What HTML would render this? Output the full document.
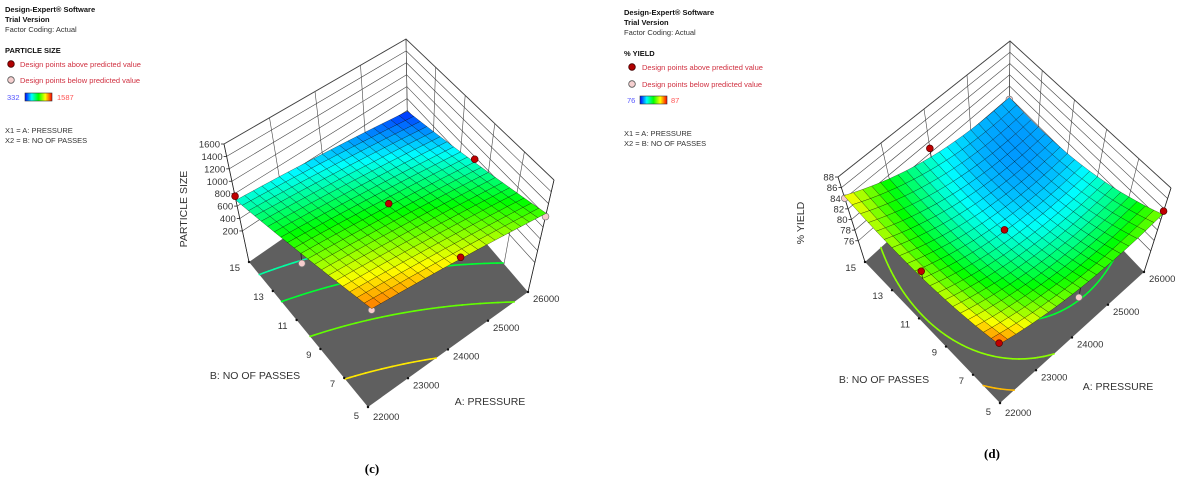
<!DOCTYPE html>
<html><head><meta charset="utf-8"><style>
body{margin:0;background:#fff;width:1203px;height:488px;overflow:hidden}
svg{display:block;font-family:"Liberation Sans",sans-serif}
.s{font-size:7.5px;fill:#333}
.b{font-size:7.5px;font-weight:bold;fill:#111}
.r{font-size:7.5px;fill:#d03040}
.t{font-size:9.5px;fill:#333}
.ax{font-size:10.5px;fill:#333}
</style></head><body>
<svg id="svg" width="1203" height="488" viewBox="0 0 1203 488">
<defs><linearGradient id="cg" x1="0" x2="1" y1="0" y2="0">
<stop offset="0" stop-color="#0000ff"/><stop offset="0.25" stop-color="#00ffff"/><stop offset="0.5" stop-color="#00ff00"/><stop offset="0.75" stop-color="#ffff00"/><stop offset="1" stop-color="#ff0000"/></linearGradient></defs>
<g>
<text class="b" x="5" y="12">Design-Expert® Software</text>
<text class="b" x="5" y="22">Trial Version</text>
<text class="s" x="5" y="32">Factor Coding: Actual</text>
<text class="b" x="5" y="53">PARTICLE SIZE</text>
<circle cx="11" cy="64" r="3.3" fill="#b00000" stroke="#400" stroke-width="0.8"/>
<text class="r" x="20" y="67">Design points above predicted value</text>
<circle cx="11" cy="80" r="3.3" fill="#f6d0d0" stroke="#555" stroke-width="0.8"/>
<text class="r" x="20" y="83">Design points below predicted value</text>
<text x="7" y="100" style="font-size:7.5px;fill:#5555ff">332</text>
<rect x="25" y="93" width="27" height="8" fill="url(#cg)" stroke="#333" stroke-width="0.6"/>
<text x="57" y="100" style="font-size:7.5px;fill:#ff5555">1587</text>
<text class="s" x="5" y="133">X1 = A: PRESSURE</text>
<text class="s" x="5" y="143">X2 = B: NO OF PASSES</text>
</g>
<g>
<text class="b" x="624" y="15">Design-Expert® Software</text>
<text class="b" x="624" y="25">Trial Version</text>
<text class="s" x="624" y="35">Factor Coding: Actual</text>
<text class="b" x="624" y="56">% YIELD</text>
<circle cx="632" cy="67" r="3.3" fill="#b00000" stroke="#400" stroke-width="0.8"/>
<text class="r" x="642" y="70">Design points above predicted value</text>
<circle cx="632" cy="84" r="3.3" fill="#f6d0d0" stroke="#555" stroke-width="0.8"/>
<text class="r" x="642" y="87">Design points below predicted value</text>
<text x="627" y="103" style="font-size:7.5px;fill:#5555ff">76</text>
<rect x="640" y="96" width="27" height="8" fill="url(#cg)" stroke="#333" stroke-width="0.6"/>
<text x="671" y="103" style="font-size:7.5px;fill:#ff5555">87</text>
<text class="s" x="624" y="136">X1 = A: PRESSURE</text>
<text class="s" x="624" y="146">X2 = B: NO OF PASSES</text>
</g>
<text x="372" y="473" text-anchor="middle" style="font-family:'Liberation Serif',serif;font-weight:bold;font-size:13px">(c)</text>
<text x="992" y="458" text-anchor="middle" style="font-family:'Liberation Serif',serif;font-weight:bold;font-size:13px">(d)</text>
</svg>
<script>
// ---- data: chart (c) particle size ----
const aTicks = [22000, 23000, 24000, 25000, 26000];
const bTicks = [5, 7, 9, 11, 13, 15];
const zTicksC = [200, 400, 600, 800, 1000, 1200, 1400, 1600];
const coefC = [920, -180, -350, 25, -30, 0]; // b0,b1,b2,b12,b11,b22 (coded)
const ptsAC = [22000, 22000, 24000, 26000, 26000, 24000, 22000];
const ptsBC = [5, 15, 10, 10, 5, 5, 10];
const ptsZC = [1420, 760, 960, 760, 980, 1300, 900];
const levelsC = [760, 900, 1080, 1300];
// ---- data: chart (d) % yield ----
const zTicksD = [76, 78, 80, 82, 84, 86, 88];
const coefD = [79, -2.375, -1.625, -0.875, 2.0, 1.875];
const ptsAD = [22000, 22000, 26000, 24000, 26000, 24000, 22000, 24000];
const ptsBD = [5, 15, 5, 15, 15, 10, 10, 5];
const ptsZD = [86.3, 84.0, 83.6, 80.8, 77.6, 79.3, 84.9, 80.5];
const levelsD = [81, 83, 85];

const NS = 'http://www.w3.org/2000/svg';
const svg = document.getElementById('svg');
function mk(tag, attrs, parent){const e=document.createElementNS(NS,tag);for(const k in attrs)e.setAttribute(k,attrs[k]);parent.appendChild(e);return e;}
function cmap(t){t=Math.max(0,Math.min(1,t));const st=[[0,0,255],[0,255,255],[0,255,0],[255,255,0],[255,0,0]];const s=t*4,i=Math.min(3,Math.floor(s)),f=s-i;const c=st[i].map((v,k)=>Math.round(v+(st[i+1][k]-v)*f));return `rgb(${c[0]},${c[1]},${c[2]})`;}

function chart(cfg){
  const g = mk('g',{},svg);
  
  
  const A0=aTicks[0],A1=aTicks[aTicks.length-1],B0=bTicks[0],B1=bTicks[bTicks.length-1];
  const bil=(C,u,v)=>[C[0][0]*(1-u)*(1-v)+C[1][0]*u*(1-v)+C[2][0]*(1-u)*v+C[3][0]*u*v,
                      C[0][1]*(1-u)*(1-v)+C[1][1]*u*(1-v)+C[2][1]*(1-u)*v+C[3][1]*u*v];
  const P=(a,b,z)=>{const u=(a-A0)/(A1-A0),v=(b-B0)/(B1-B0),w=(z-cfg.zmin)/(cfg.zmax-cfg.zmin);
    const f=bil(cfg.F,u,v),t=bil(cfg.T,u,v);return [f[0]+(t[0]-f[0])*w,f[1]+(t[1]-f[1])*w];};
  const model=(a,b)=>{const x=(a-(A0+A1)/2)/((A1-A0)/2),y=(b-(B0+B1)/2)/((B1-B0)/2),c=cfg.coef;
    return c[0]+c[1]*x+c[2]*y+c[3]*x*y+c[4]*x*x+c[5]*y*y;};
  const col=z=>cmap((z-cfg.cmin)/(cfg.cmax-cfg.cmin));
  const pt=p=>p[0].toFixed(1)+','+p[1].toFixed(1);
  const zt=cfg.zTicks;
  const wg = mk('g',{stroke:'#444','stroke-width':0.6,fill:'none'},g);
  
  
  for(const z of zt){ mk('polyline',{points:[P(A0,B1,z),P(A1,B1,z),P(A1,B0,z)].map(pt).join(' ')},wg); }
  mk('polyline',{points:[P(A0,B1,cfg.zmax),P(A1,B1,cfg.zmax),P(A1,B0,cfg.zmax)].map(pt).join(' '),'stroke-width':0.9},wg);
  for(const a of aTicks){ mk('line',{x1:P(a,B1,cfg.zmin)[0],y1:P(a,B1,cfg.zmin)[1],x2:P(a,B1,cfg.zmax)[0],y2:P(a,B1,cfg.zmax)[1]},wg); }
  for(const b of bTicks){ mk('line',{x1:P(A1,b,cfg.zmin)[0],y1:P(A1,b,cfg.zmin)[1],x2:P(A1,b,cfg.zmax)[0],y2:P(A1,b,cfg.zmax)[1]},wg); }
  const fl = mk('polygon',{points:[P(A0,B0,cfg.zmin),P(A1,B0,cfg.zmin),P(A1,B1,cfg.zmin),P(A0,B1,cfg.zmin)].map(pt).join(' '),fill:'#5f5f5f'},g);
  
  
  const N=40;
  for(const L of cfg.levels){
    const cg=mk('g',{stroke:col(L),'stroke-width':1.6,'stroke-linecap':'round'},g);
    
    
    for(let i=0;i<N;i++)for(let j=0;j<N;j++){
      const a0=A0+(A1-A0)*i/N,a1=A0+(A1-A0)*(i+1)/N,b0=B0+(B1-B0)*j/N,b1=B0+(B1-B0)*(j+1)/N;
      const c=[[a0,b0],[a1,b0],[a1,b1],[a0,b1]],v=c.map(p=>model(p[0],p[1])-L),cr=[];
      for(let k=0;k<4;k++){const m=(k+1)%4;if((v[k]<0)!==(v[m]<0)){const f=v[k]/(v[k]-v[m]);cr.push([c[k][0]+(c[m][0]-c[k][0])*f,c[k][1]+(c[m][1]-c[k][1])*f]);}}
      if(cr.length>=2){const p1=P(cr[0][0],cr[0][1],cfg.zmin),p2=P(cr[1][0],cr[1][1],cfg.zmin);mk('line',{x1:p1[0],y1:p1[1],x2:p2[0],y2:p2[1]},cg);}
    }
  }
  const ag=mk('g',{stroke:'#222','stroke-width':0.8},g);
  
  
  let p1=P(A0,B1,cfg.zmin),p2=P(A0,B1,cfg.zmax);
  mk('line',{x1:p1[0],y1:p1[1],x2:p2[0],y2:p2[1]},ag);
  p1=P(A1,B0,cfg.zmin);p2=P(A1,B0,cfg.zmax);
  mk('line',{x1:p1[0],y1:p1[1],x2:p2[0],y2:p2[1]},ag);
  for(const z of zt){const p=P(A0,B1,z);mk('line',{x1:p[0]-3,y1:p[1],x2:p[0],y2:p[1]},ag);
    const t=mk('text',{x:p[0]-4,y:p[1]+3.5,'text-anchor':'end',class:'t',stroke:'none'},ag);t.textContent=z;
    
    }
  for(const b of bTicks){const p=P(A0,b,cfg.zmin);mk('circle',{cx:p[0],cy:p[1],r:1.2,fill:'#111',stroke:'none'},ag);
    const t=mk('text',{x:p[0]-9,y:p[1]+(b===B0?12:9),'text-anchor':'end',class:'t',stroke:'none'},ag);t.textContent=b;
    
    }
  for(const a of aTicks){const p=P(a,B0,cfg.zmin);mk('circle',{cx:p[0],cy:p[1],r:1.2,fill:'#111',stroke:'none'},ag);
    const t=mk('text',{x:p[0]+5,y:p[1]+(a===A0?13:10),class:'t',stroke:'none'},ag);t.textContent=a;
    
    }
  const M=20;
  const pts=[];
  for(let k=0;k<cfg.pa.length;k++)pts.push([cfg.pa[k],cfg.pb[k],cfg.pz[k]]);
  const drawPt=(p,par)=>{const above=p[2]>=model(p[0],p[1]);const s=P(p[0],p[1],model(p[0],p[1])),q=P(p[0],p[1],p[2]);
    mk('line',{x1:s[0],y1:s[1],x2:q[0],y2:q[1],stroke:'#222','stroke-width':0.8},par);
    const c=mk('circle',{cx:q[0],cy:q[1],r:3.4,fill:above?'#c00000':'#f6cccc',stroke:above?'#500':'#777','stroke-width':0.7},par);
    
    };
  const lowG=mk('g',{},g);
  
  
  pts.filter(p=>p[2]<model(p[0],p[1])).forEach(p=>drawPt(p,lowG));
  const sg=mk('g',{stroke:'rgba(0,0,0,0.55)','stroke-width':0.5},g);
  
  
  const cells=[];
  for(let i=0;i<M;i++)for(let j=0;j<M;j++)cells.push([i,j]);
  cells.sort((x,y)=>(y[0]+y[1])-(x[0]+x[1]));
  for(const [i,j] of cells){
    const a0=A0+(A1-A0)*i/M,a1=A0+(A1-A0)*(i+1)/M,b0=B0+(B1-B0)*j/M,b1=B0+(B1-B0)*(j+1)/M;
    const q=[[a0,b0],[a1,b0],[a1,b1],[a0,b1]].map(p=>P(p[0],p[1],model(p[0],p[1])));
    const poly=mk('polygon',{points:q.map(pt).join(' '),fill:col(model((a0+a1)/2,(b0+b1)/2))},sg);
    
    
  }
  const hiG=mk('g',{},g);
  
  
  pts.filter(p=>p[2]>=model(p[0],p[1])).forEach(p=>drawPt(p,hiG));
  const zt1=mk('text',{x:cfg.zTitle[0],y:cfg.zTitle[1],class:'ax','text-anchor':'middle',transform:`rotate(-90 ${cfg.zTitle[0]} ${cfg.zTitle[1]})`},g);
  zt1.textContent=cfg.zLabel;
  
  
  const bt=mk('text',{x:cfg.bTitle[0],y:cfg.bTitle[1],class:'ax','text-anchor':'middle'},g);
  bt.textContent='B: NO OF PASSES';
  
  
  const at=mk('text',{x:cfg.aTitle[0],y:cfg.aTitle[1],class:'ax','text-anchor':'middle'},g);
  at.textContent='A: PRESSURE';
  
  
}
chart({name:'chart-particle-size',F:[[368,407],[528,292],[249,262],[408,152]],T:[[372,300],[554,180],[224,144],[406,39]],
  zmin:-300,zmax:1600,zTicks:zTicksC,coef:coefC,cmin:332,cmax:1587,levels:levelsC,pa:ptsAC,pb:ptsBC,pz:ptsZC,
  zLabel:'PARTICLE SIZE',zTitle:[187,209],bTitle:[255,379],aTitle:[490,405]});
chart({name:'chart-yield',F:[[1000,403],[1144,272],[865,262],[1009,131]],T:[[999,336],[1171,188],[838,177],[1010,41]],
  zmin:72,zmax:88,zTicks:zTicksD,coef:coefD,cmin:76,cmax:87,levels:levelsD,pa:ptsAD,pb:ptsBD,pz:ptsZD,
  zLabel:'% YIELD',zTitle:[804,223],bTitle:[884,383],aTitle:[1118,390]});
</script>
</body></html>
